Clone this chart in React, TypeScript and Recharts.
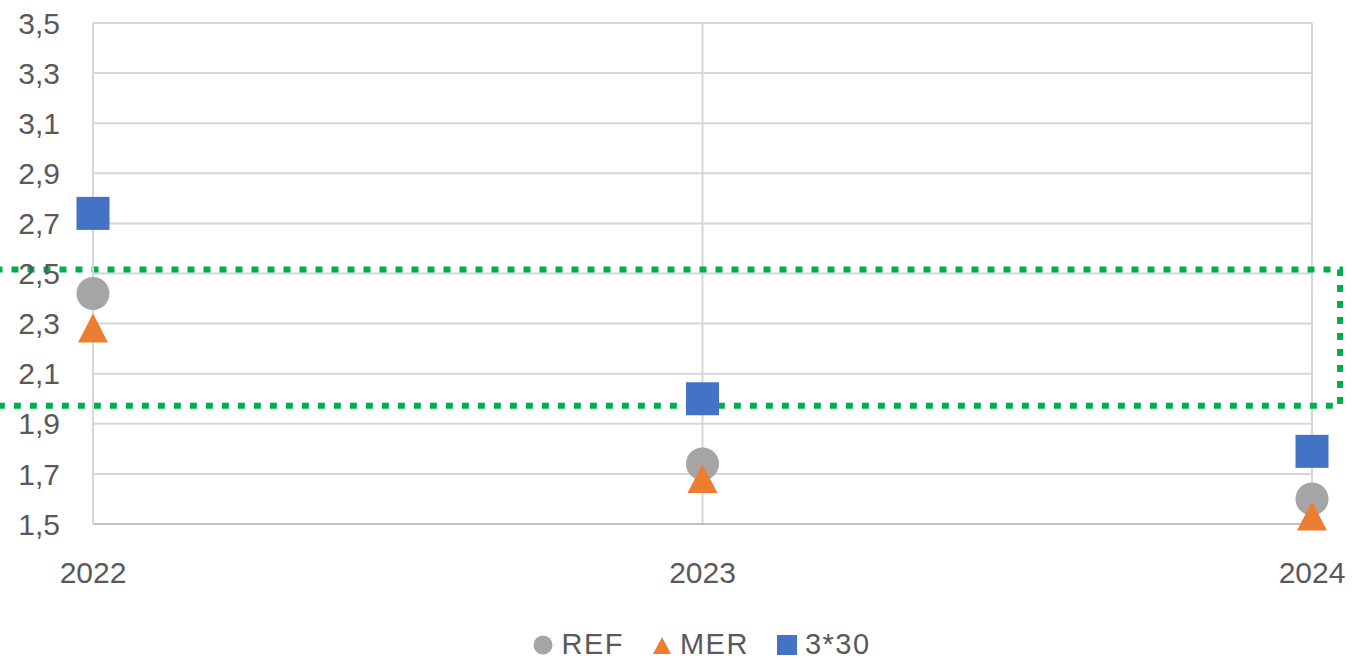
import {
  ScatterChart,
  Scatter,
  XAxis,
  YAxis,
  CartesianGrid,
  Legend,
  ReferenceArea,
} from "recharts";

const years = [2022, 2023, 2024];
const refValues = [2.42, 1.74, 1.6];
const merValues = [2.28, 1.68, 1.53];
const s330Values = [2.74, 2.0, 1.79];
const yTicks = [1.5, 1.7, 1.9, 2.1, 2.3, 2.5, 2.7, 2.9, 3.1, 3.3, 3.5];

// target band highlighted with the green dotted frame
const bandLow = 1.972;
const bandHigh = 2.516;

const refData = years.map((x, i) => ({ x, y: refValues[i] }));
const merData = years.map((x, i) => ({ x, y: merValues[i] }));
const s330Data = years.map((x, i) => ({ x, y: s330Values[i] }));

const GREY = "#a5a5a5";
const ORANGE = "#ed7d31";
const BLUE = "#4472c4";
const TEXT = "#595959";
const FONT = "'Liberation Sans', Arial, sans-serif";

const CircleShape = (p: any) => <circle cx={p.cx} cy={p.cy} r={16.5} fill={GREY} />;
const TriangleShape = (p: any) => (
  <polygon
    points={`${p.cx},${p.cy - 15} ${p.cx + 15},${p.cy + 14} ${p.cx - 15},${p.cy + 14}`}
    fill={ORANGE}
  />
);
const SquareShape = (p: any) => (
  <rect x={p.cx - 16.5} y={p.cy - 16.5} width={33} height={33} fill={BLUE} />
);

const legendItems = [
  { name: "REF", color: GREY, kind: "circle" },
  { name: "MER", color: ORANGE, kind: "triangle" },
  { name: "3*30", color: BLUE, kind: "square" },
];

function LegendIcon({ kind, color }: { kind: string; color: string }) {
  return (
    <svg width={20} height={20} style={{ marginRight: 8 }}>
      {kind === "circle" && <circle cx={10} cy={10} r={9.5} fill={color} />}
      {kind === "triangle" && <polygon points="10,2 19,19 1,19" fill={color} />}
      {kind === "square" && <rect x={0} y={0} width={20} height={20} fill={color} />}
    </svg>
  );
}

function CustomLegend() {
  return (
    <div
      style={{
        display: "flex",
        justifyContent: "center",
        alignItems: "center",
        fontFamily: FONT,
        fontSize: 29,
        color: TEXT,
        paddingLeft: 120,
        paddingTop: 14,
      }}
    >
      {legendItems.map((it) => (
        <div key={it.name} style={{ display: "flex", alignItems: "center", marginRight: 28 }}>
          <LegendIcon kind={it.kind} color={it.color} />
          <span style={{ letterSpacing: 1.5 }}>{it.name}</span>
        </div>
      ))}
    </div>
  );
}

export default function App() {
  return (
    <div style={{ position: "absolute", left: 0, top: 0, background: "#fff" }}>
      <ScatterChart
        width={1352}
        height={660}
        margin={{ top: 23, right: 40, bottom: 0, left: 0 }}
      >
        <CartesianGrid stroke="#d6d6d6" strokeWidth={2} />
        <XAxis
          type="number"
          dataKey="x"
          domain={[2022, 2024]}
          ticks={years}
          height={90}
          tickSize={0}
          tickMargin={38}
          axisLine={{ stroke: "#bfbfbf", strokeWidth: 2 }}
          tick={{ fill: TEXT, fontSize: 30, fontFamily: FONT }}
        />
        <YAxis
          type="number"
          dataKey="y"
          domain={[1.5, 3.5]}
          ticks={yTicks}
          width={93}
          tickSize={0}
          tickMargin={33}
          axisLine={{ stroke: "#d6d6d6", strokeWidth: 2 }}
          tickFormatter={(v: number) => v.toFixed(1).replace(".", ",")}
          tick={{ fill: TEXT, fontSize: 30, fontFamily: FONT }}
        />
        <Scatter name="REF" data={refData} shape={CircleShape} isAnimationActive={false} />
        <Scatter name="MER" data={merData} shape={TriangleShape} isAnimationActive={false} />
        <Scatter name="3*30" data={s330Data} shape={SquareShape} isAnimationActive={false} />
        <ReferenceArea
          x1={2021.84}
          x2={2024.046}
          y1={bandLow}
          y2={bandHigh}
          ifOverflow="visible"
          fill="none"
          stroke="#00b050"
          strokeWidth={6}
          strokeDasharray="7 9"
        />
        <Legend verticalAlign="bottom" height={46} content={<CustomLegend />} />
      </ScatterChart>
    </div>
  );
}
